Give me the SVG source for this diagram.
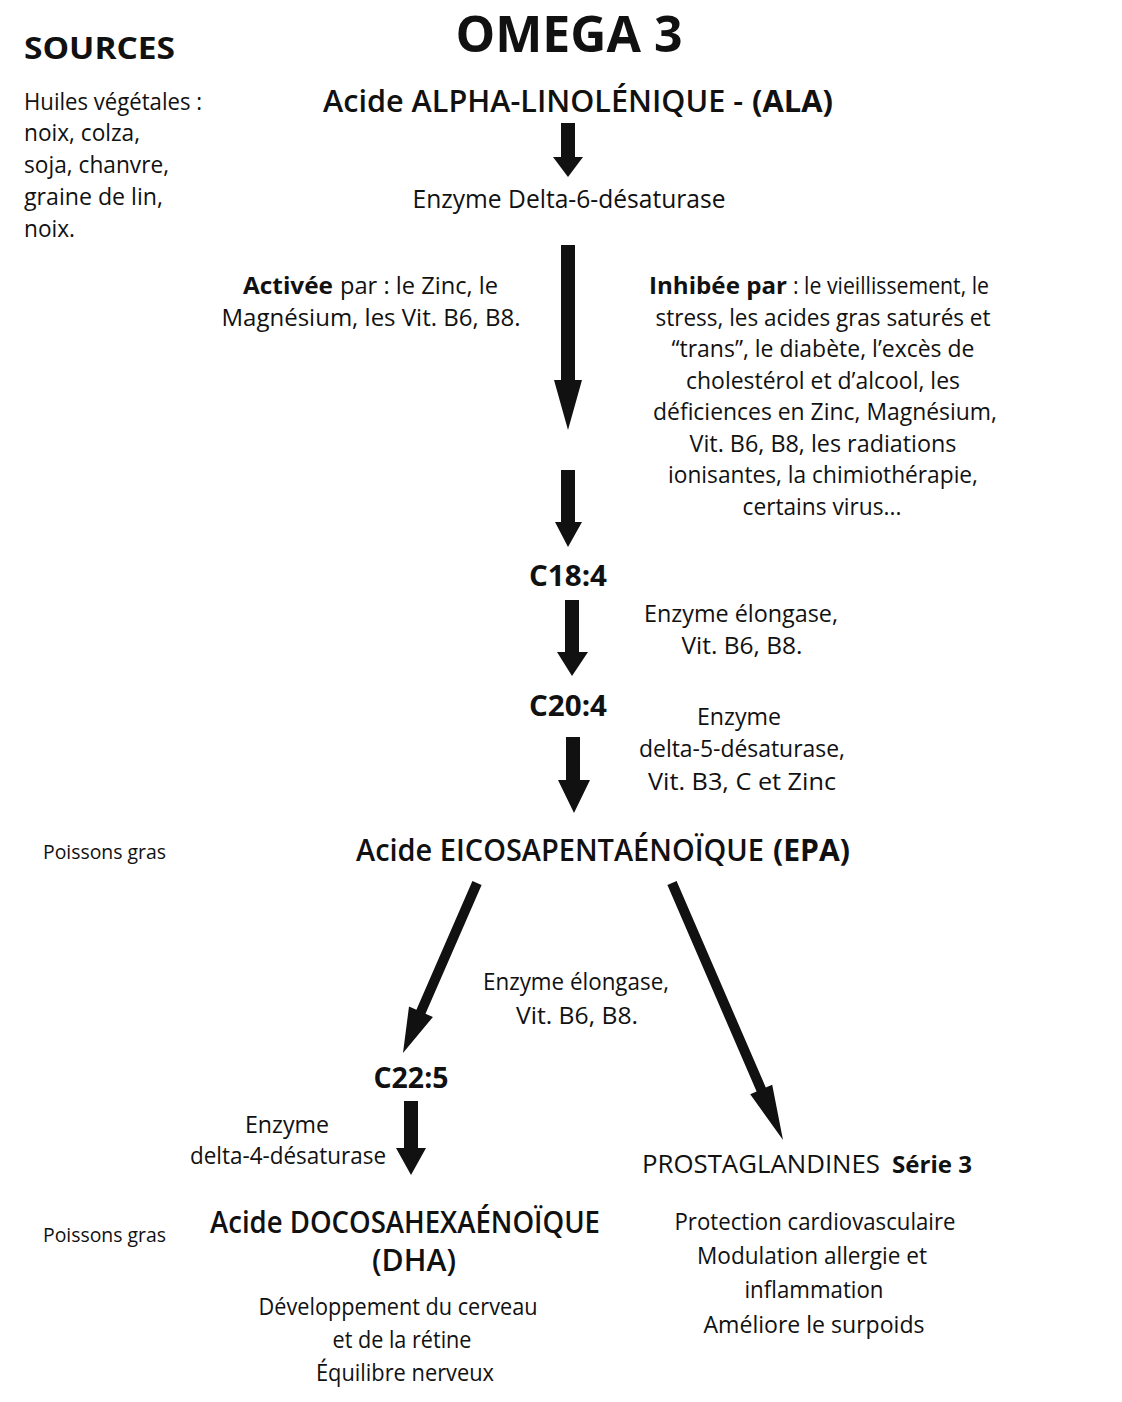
<svg xmlns="http://www.w3.org/2000/svg" width="1122" height="1402" viewBox="0 0 1122 1402">
<style>
text{font-family:"Open Sans","Noto Sans","DejaVu Sans",sans-serif;fill:#111;}
.t{font-size:24px;}
.m{text-anchor:middle;}
.b{font-weight:700;}
.sb{font-weight:600;}
.h{font-size:30px;}
.s{font-size:20px;}
.arrow{fill:#111;}
</style>
<rect width="1122" height="1402" fill="#fff"/>
<g id="title"><text x="569" y="52" class="m b" font-size="50" textLength="227" lengthAdjust="spacingAndGlyphs">OMEGA 3</text></g>
<g id="sources">
<text x="24" y="59" class="b" font-size="30" textLength="151" lengthAdjust="spacingAndGlyphs">SOURCES</text>
<text x="24" y="110" class="t" textLength="178" lengthAdjust="spacingAndGlyphs">Huiles végétales :</text>
<text x="24" y="141" class="t" textLength="116" lengthAdjust="spacingAndGlyphs">noix, colza,</text>
<text x="24" y="173" class="t" textLength="145" lengthAdjust="spacingAndGlyphs">soja, chanvre,</text>
<text x="24" y="205" class="t" textLength="139" lengthAdjust="spacingAndGlyphs">graine de lin,</text>
<text x="24" y="237" class="t" textLength="51" lengthAdjust="spacingAndGlyphs">noix.</text>
</g>
<g id="ala">
<text x="323" y="112" class="h sb" textLength="420" lengthAdjust="spacingAndGlyphs">Acide ALPHA-LINOLÉNIQUE -</text>
<text x="752" y="112" class="h b" textLength="81" lengthAdjust="spacingAndGlyphs">(ALA)</text>
</g>
<g id="d6d"><text x="569" y="208" class="m" font-size="25" textLength="313" lengthAdjust="spacingAndGlyphs">Enzyme Delta-6-désaturase</text></g>
<g id="activee">
<text x="243" y="294" class="t b" textLength="90" lengthAdjust="spacingAndGlyphs">Activée</text>
<text x="340" y="294" class="t" textLength="158" lengthAdjust="spacingAndGlyphs">par : le Zinc, le</text>
<text x="371" y="326" class="t m" textLength="299" lengthAdjust="spacingAndGlyphs">Magnésium, les Vit. B6, B8.</text>
</g>
<g id="inhibee">
<text x="649" y="294" class="t b" textLength="138" lengthAdjust="spacingAndGlyphs">Inhibée  par</text>
<text x="793" y="294" class="t" textLength="196" lengthAdjust="spacingAndGlyphs">: le vieillissement, le</text>
<text x="823" y="326" class="t m" textLength="335" lengthAdjust="spacingAndGlyphs">stress, les acides gras saturés et</text>
<text x="823" y="357" class="t m" textLength="303" lengthAdjust="spacingAndGlyphs">“trans”, le diabète, l’excès de</text>
<text x="823" y="389" class="t m" textLength="274" lengthAdjust="spacingAndGlyphs">cholestérol et d’alcool, les</text>
<text x="825" y="420" class="t m" textLength="344" lengthAdjust="spacingAndGlyphs">déficiences en Zinc, Magnésium,</text>
<text x="823" y="452" class="t m" textLength="267" lengthAdjust="spacingAndGlyphs">Vit. B6, B8, les radiations</text>
<text x="823" y="483" class="t m" textLength="310" lengthAdjust="spacingAndGlyphs">ionisantes, la chimiothérapie,</text>
<text x="822" y="515" class="t m" textLength="159" lengthAdjust="spacingAndGlyphs">certains virus...</text>
</g>
<g id="c184"><text x="568" y="586" class="m b" font-size="28" textLength="78" lengthAdjust="spacingAndGlyphs">C18:4</text></g>
<g id="elong1">
<text x="741" y="622" class="t m" textLength="194" lengthAdjust="spacingAndGlyphs">Enzyme élongase,</text>
<text x="742" y="654" class="t m" textLength="121" lengthAdjust="spacingAndGlyphs">Vit. B6, B8.</text>
</g>
<g id="c204"><text x="568" y="716" class="m b" font-size="28" textLength="78" lengthAdjust="spacingAndGlyphs">C20:4</text></g>
<g id="d5d">
<text x="739" y="725" class="t m" textLength="84" lengthAdjust="spacingAndGlyphs">Enzyme</text>
<text x="742" y="757" class="t m" textLength="206" lengthAdjust="spacingAndGlyphs">delta-5-désaturase,</text>
<text x="742" y="790" class="t m" textLength="188" lengthAdjust="spacingAndGlyphs">Vit. B3, C et Zinc</text>
</g>
<g id="poissons1"><text x="43" y="859" class="s" textLength="123" lengthAdjust="spacingAndGlyphs">Poissons gras</text></g>
<g id="epa">
<text x="356" y="861" class="h sb" textLength="408" lengthAdjust="spacingAndGlyphs">Acide EICOSAPENTAÉNOÏQUE</text>
<text x="773" y="861" class="h b" textLength="77" lengthAdjust="spacingAndGlyphs">(EPA)</text>
</g>
<g id="elong2">
<text x="576" y="990" class="t m" textLength="186" lengthAdjust="spacingAndGlyphs">Enzyme élongase,</text>
<text x="577" y="1024" class="t m" textLength="122" lengthAdjust="spacingAndGlyphs">Vit. B6, B8.</text>
</g>
<g id="c225"><text x="411" y="1088" class="m b" font-size="28" textLength="75" lengthAdjust="spacingAndGlyphs">C22:5</text></g>
<g id="d4d">
<text x="287" y="1133" class="t m" textLength="84" lengthAdjust="spacingAndGlyphs">Enzyme</text>
<text x="288" y="1164" class="t m" textLength="196" lengthAdjust="spacingAndGlyphs">delta-4-désaturase</text>
</g>
<g id="prostaglandines">
<text x="642" y="1173" font-size="26" textLength="238" lengthAdjust="spacingAndGlyphs">PROSTAGLANDINES</text>
<text x="892" y="1173" class="b" font-size="24" textLength="80" lengthAdjust="spacingAndGlyphs">Série 3</text>
<text x="815" y="1230" class="t m" textLength="281" lengthAdjust="spacingAndGlyphs">Protection cardiovasculaire</text>
<text x="812" y="1264" class="t m" textLength="230" lengthAdjust="spacingAndGlyphs">Modulation allergie et</text>
<text x="814" y="1298" class="t m" textLength="139" lengthAdjust="spacingAndGlyphs">inflammation</text>
<text x="814" y="1333" class="t m" textLength="221" lengthAdjust="spacingAndGlyphs">Améliore le surpoids</text>
</g>
<g id="poissons2"><text x="43" y="1242" class="s" textLength="123" lengthAdjust="spacingAndGlyphs">Poissons gras</text></g>
<g id="dha">
<text x="405" y="1233" class="h m sb" textLength="390" lengthAdjust="spacingAndGlyphs">Acide DOCOSAHEXAÉNOÏQUE</text>
<text x="414" y="1271" class="h m sb" textLength="84" lengthAdjust="spacingAndGlyphs">(DHA)</text>
<text x="398" y="1315" class="t m" textLength="279" lengthAdjust="spacingAndGlyphs">Développement du cerveau</text>
<text x="402" y="1348" class="t m" textLength="139" lengthAdjust="spacingAndGlyphs">et de la rétine</text>
<text x="405" y="1381" class="t m" textLength="178" lengthAdjust="spacingAndGlyphs">Équilibre nerveux</text>
</g>
<g id="connectors" class="arrow">
<polygon points="561,123 575,123 575,157 583,157 568,177 553,157 561,157"/>
<polygon points="561,245 575,245 575,380 582,380 568,430 554,380 561,380"/>
<polygon points="561,470 575,470 575,522 582,522 568,547 555,522 561,522"/>
<polygon points="565,600 579,600 579,652 588,652 572,676 557,652 565,652"/>
<polygon points="566,737 580,737 580,780 590,780 574,813 558,780 566,780"/>
<polygon points="404,1101 418,1101 418,1148 426,1148 411,1175 396,1148 404,1148"/>
<polygon points="481.6,885 425.5,1013.7 432.9,1016.9 403,1053 409,1006.5 416.4,1009.7 472.4,881"/>
<polygon points="676.6,881 765.8,1087.5 772.2,1084.7 783,1140 750.2,1094.3 756.6,1091.5 667.4,885"/>
</g>
</svg>
